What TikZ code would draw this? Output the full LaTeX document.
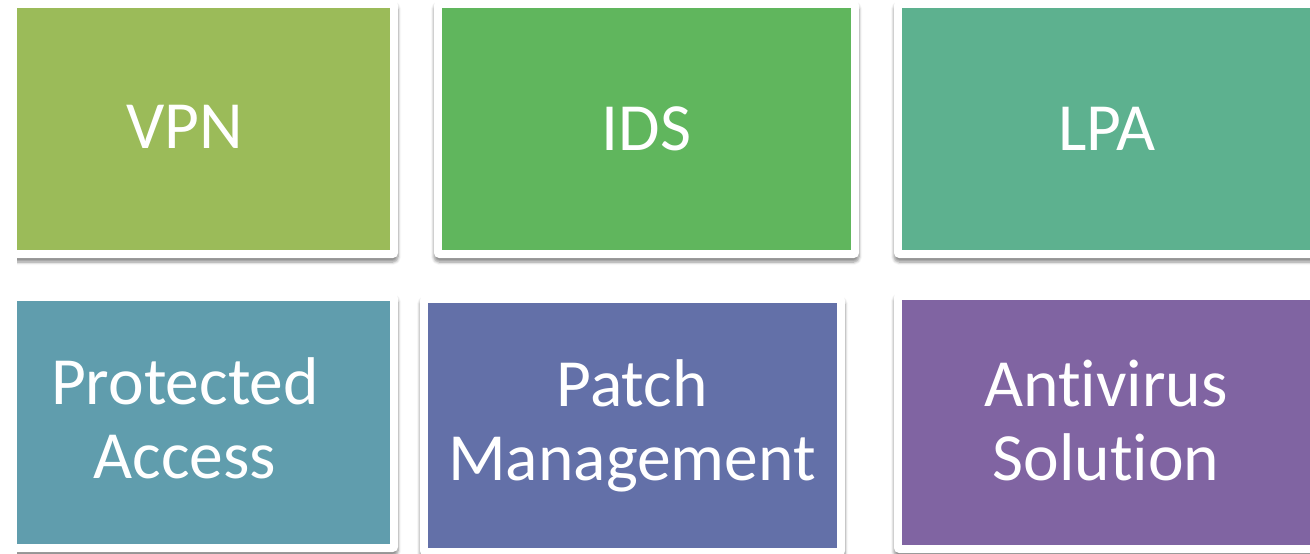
\documentclass[tikz,border=0pt]{standalone}
\usepackage{fontspec}
\setmainfont[Ligatures={NoCommon,NoContextual,NoRare},RawFeature={-liga;-clig;-calt;-dlig}]{Carlito}
\definecolor{tileolive}{RGB}{155,187,89}
\definecolor{tilegreen}{RGB}{96,182,93}
\definecolor{tilesea}{RGB}{93,177,143}
\definecolor{tileteal}{RGB}{96,157,173}
\definecolor{tileblue}{RGB}{99,112,168}
\definecolor{tileviolet}{RGB}{128,100,162}
\usetikzlibrary{positioning, shadows.blur}

\begin{document}
\begin{tikzpicture}[
  x=1pt, y=-1pt,
  tile/.style={rectangle, fill=white, rounded corners=5pt,
    blur shadow={shadow xshift=0pt, shadow yshift=-4pt, shadow blur radius=3pt,
      shadow blur steps=6, shadow opacity=45},
    path picture={\fill[#1, sharp corners] ([shift={(8pt,-8pt)}]path picture bounding box.north west)
      rectangle ([shift={(-8pt,8pt)}]path picture bounding box.south east);}},
  caption/.style={text=white, align=center, font=\fontsize{67.5}{74}\selectfont}
]
  \useasboundingbox (0,0) rectangle (1310,554);
  \clip (17,0) rectangle (1310,554);

  % top row
  \node[tile=tileolive, minimum width=389pt, minimum height=258pt] (VPN) at (203.5,129) {};
  \node[tile=tilegreen, minimum width=425pt, minimum height=258pt] (IDS) at (646.5,129) {};
  \node[tile=tilesea, minimum width=426pt, minimum height=258pt] (LPA) at (1107,129) {};

  % bottom row
  \node[tile=tileteal, minimum width=389pt, minimum height=259pt] (PA) at (203.5,422.5) {};
  \node[tile=tileblue, minimum width=425pt, minimum height=261pt] (PM) at (632.5,425.5) {};
  \node[tile=tileviolet, minimum width=426pt, minimum height=261pt] (AS) at (1107,422.5) {};

  \node[caption] (VPNtext) at (185,127) {VPN};
  \node[caption] (IDStext) at (IDS) {IDS};
  \node[caption] (LPAtext) at (LPA) {LPA};
  \node[caption] (PAtext) at (185,418.5) {Protected\\Access};
  \node[caption] (PMtext) at (632,426) {Patch\\Management};
  \node[caption] (AStext) at (1106,420.5) {Antivirus\\Solution};
\end{tikzpicture}
\end{document}
